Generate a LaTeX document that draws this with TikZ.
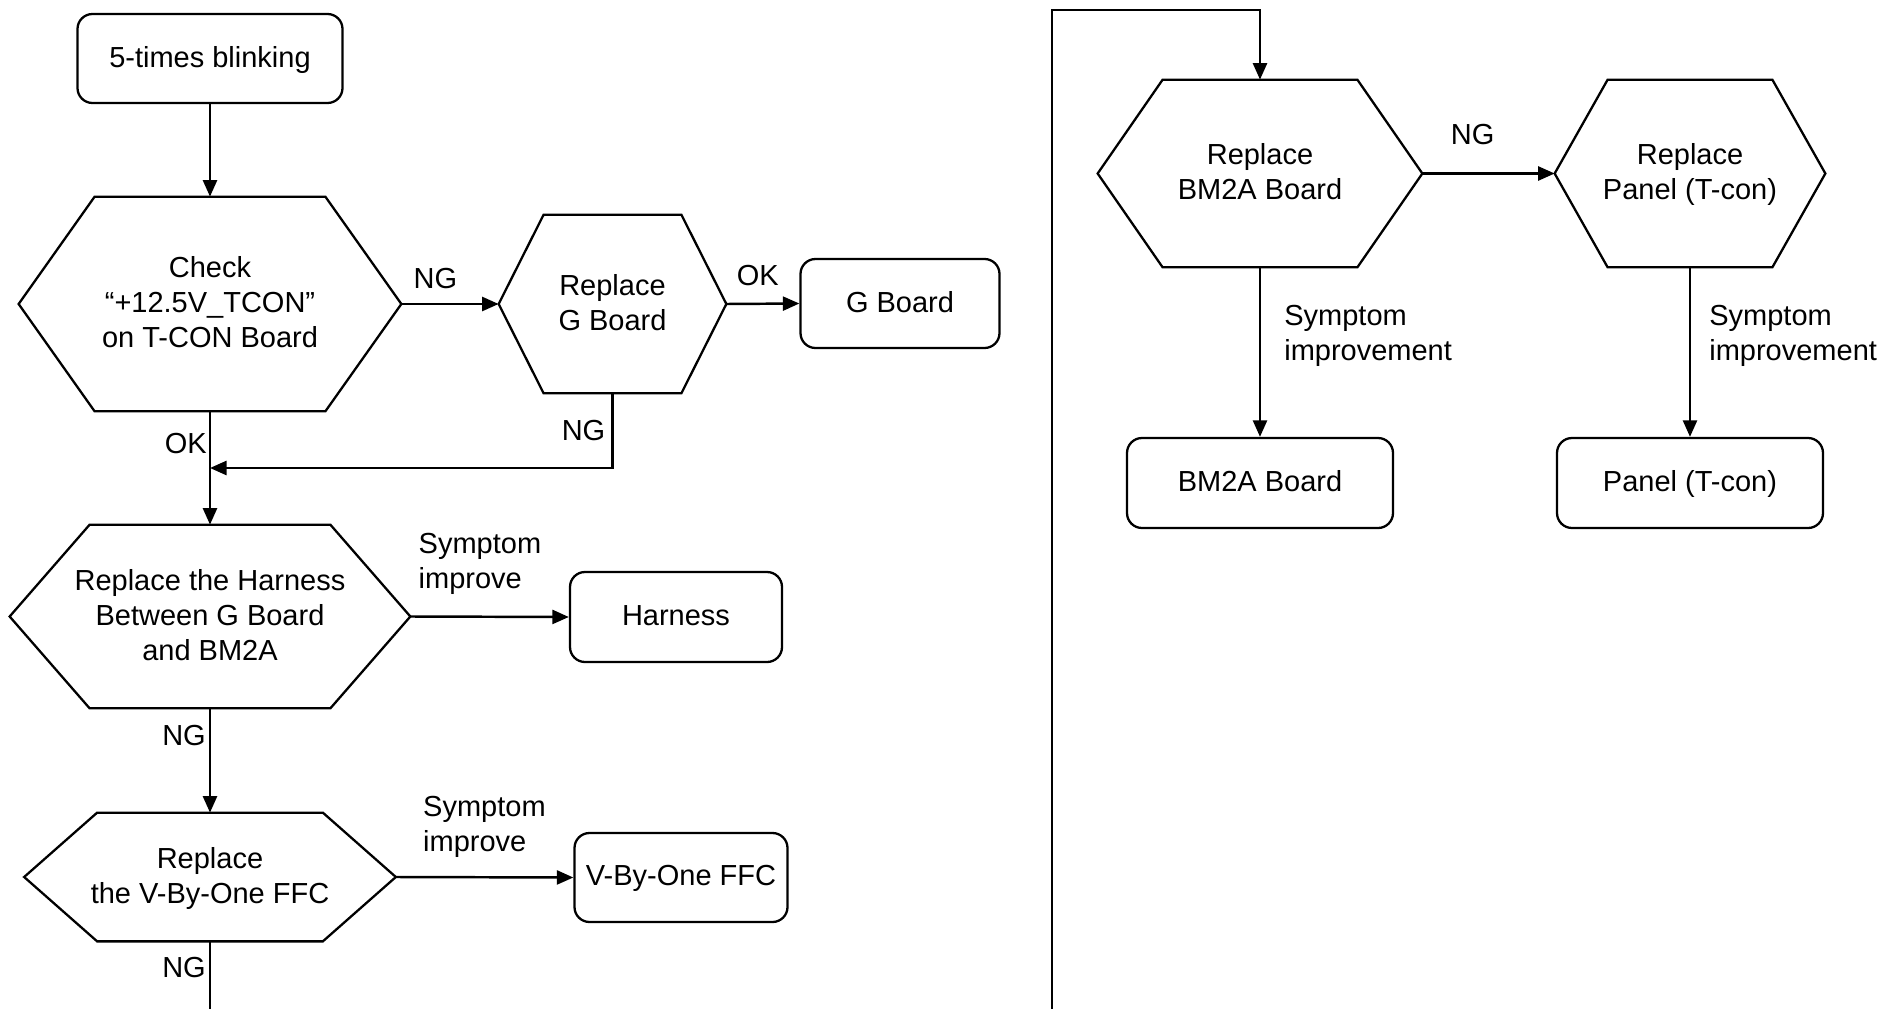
\documentclass[tikz,border=0pt]{standalone}
\usepackage{fontspec}
\setmainfont{Liberation Sans}
\usetikzlibrary{positioning,arrows.meta,calc}

\begin{document}
\begin{tikzpicture}[
  box/.style={draw, line width=1.3pt, rounded corners=0.3cm, align=center, inner sep=0pt, minimum height=1.78cm, text depth=0.2em},
  hexnode/.style={align=center, inner sep=0pt, text depth=0.2em},
  lbl/.style={inner sep=0pt, align=left},
  arr/.style={line width=1.4pt, -{Triangle[length=0.33cm,width=0.28cm]}},
  font=\fontsize{16.5}{19.8}\selectfont
]
  \def\xl{4.2} % x of the left column
  \def\xr{21.04} % x of the line on the right
  \useasboundingbox (0,0) rectangle (37.66,-20.18);
  % left column
  \node[box, minimum width=5.3cm] (start) at (\xl,-1.17) {5-times blinking};
  \node[hexnode, minimum width=7.64cm, minimum height=4.28cm] (check) at (\xl,-6.08) {Check\\“+12.5V\_TCON”\\on T-CON Board};
  \node[hexnode, minimum width=4.54cm, minimum height=3.56cm] (replg) at (12.25,-6.08) {Replace\\G Board};
  \node[box, minimum width=3.98cm] (gboard) at (18.0,-6.07) {G Board};
  \node[hexnode, minimum width=8.0cm, minimum height=3.66cm] (harnessx) at (\xl,-12.33) {Replace the Harness\\Between G Board\\and BM2A};
  \node[box, minimum width=4.24cm, minimum height=1.8cm] (harness) at (13.52,-12.34) {Harness};
  \node[hexnode, minimum width=7.42cm, minimum height=2.56cm] (vbox) at (\xl,-17.54) {Replace\\the V-By-One FFC};
  \node[box, minimum width=4.26cm] (vbo) at (13.62,-17.55) {V-By-One FFC};
  % right column
  \node[hexnode, minimum width=6.48cm, minimum height=3.74cm] (bm2a) at (25.2,-3.47) {Replace\\BM2A Board};
  \node[hexnode, minimum width=5.4cm, minimum height=3.74cm] (panel) at (33.8,-3.47) {Replace\\Panel (T-con)};
  \node[box, minimum width=5.32cm, minimum height=1.8cm] (bm2abox) at (25.2,-9.66) {BM2A Board};
  \node[box, minimum width=5.32cm, minimum height=1.8cm] (panelbox) at (33.8,-9.66) {Panel (T-con)};
  % Draw the hexagons round their nodes
  \foreach \hx/\ins in {check/1.52, replg/0.9, harnessx/1.6, vbox/1.46, bm2a/1.3, panel/1.06} {
    \draw[line width=1.3pt] (\hx.west) -- ([xshift=\ins cm]\hx.north west) -- ([xshift=-\ins cm]\hx.north east)
      -- (\hx.east) -- ([xshift=-\ins cm]\hx.south east) -- ([xshift=\ins cm]\hx.south west) -- cycle;
  }
  \coordinate (merge) at (\xl,-9.36);
  \coordinate (exitL) at (\xl,-20.18);
  \coordinate (exitR) at (\xr,-20.18);
  \coordinate (topR) at (\xr,-0.2);
  % connectors
  \draw[arr] (start) -- (check);
  \draw[arr] (check.east) -- node[lbl, above=0.27cm, pos=0.35] (ng1) {NG} (replg.west);
  \draw[arr] (replg.east) -- node[lbl, above=0.33cm, pos=0.43] (ok2) {OK} (gboard.west);
  \draw[arr] (replg.south) |- node[lbl, left=0.12cm, pos=0.25] (ng2) {NG} (merge);
  \draw[arr] (check.south) -- node[lbl, left=0.04cm, pos=0.28] (ok1) {OK} (harnessx.north);
  \draw[arr] (harnessx.east) -- (harness.west);
  \draw[arr] (harnessx.south) -- node[lbl, left=0.06cm, pos=0.26] (ng3) {NG} (vbox.north);
  \draw[arr] (vbox.east) -- (vbo.west);
  \draw[line width=1.4pt] (vbox.south) -- node[lbl, left=0.06cm, pos=0.38] (ng4) {NG} (exitL);
  \draw[arr] (exitR) -- (topR) -| (bm2a.north);
  \draw[arr] (bm2a.east) -- node[lbl, above=0.55cm, pos=0.38] (ng5) {NG} (panel.west);
  \draw[arr] (bm2a.south) -- (bm2abox.north);
  \draw[arr] (panel.south) -- (panelbox.north);
  % side labels
  \node[lbl, above right=0.44cm and 0.16cm of harnessx.east] (sym1) {Symptom\\improve};
  \node[lbl, above right=0.38cm and 0.54cm of vbox.east] (sym2) {Symptom\\improve};
  \node[lbl, below right=0.75cm and 0.48cm of bm2a.south] (sym3) {Symptom\\improvement};
  \node[lbl, below right=0.75cm and 0.38cm of panel.south] (sym4) {Symptom\\improvement};
\end{tikzpicture}
\end{document}
